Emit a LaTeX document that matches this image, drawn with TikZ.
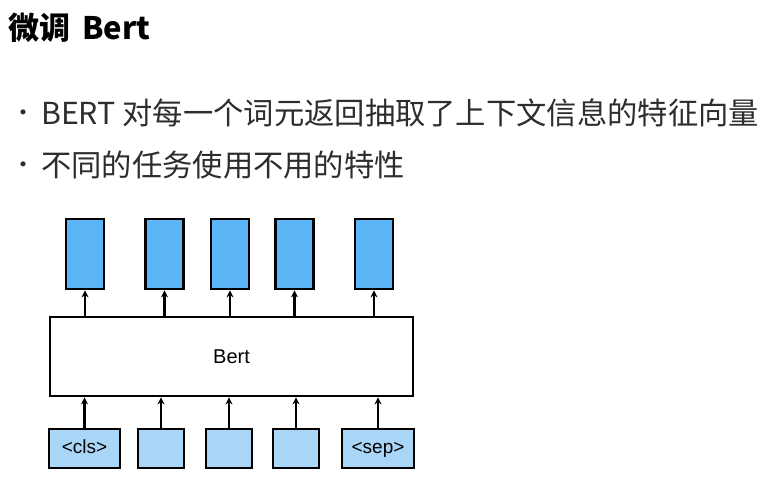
\documentclass[tikz,border=0pt]{standalone}
\usepackage{fontspec}
\setmainfont{Noto Sans CJK SC}
\newfontfamily\arialfont{Liberation Sans}
\usetikzlibrary{positioning, arrows.meta}
\definecolor{topblue}{RGB}{91,181,247}
\definecolor{lowblue}{RGB}{169,213,247}
\definecolor{txtgray}{RGB}{45,45,45}

\begin{document}
\begin{tikzpicture}[x=1pt, y=1pt, >={Stealth[length=7pt, width=7pt]},
         outbox/.style={
         % The shape:
         rectangle, inner sep=0pt,
         % The size:
         minimum width=38pt, minimum height=70pt,
         % The border
         line width=2.8pt, draw=black,
         % The filling
         fill=topblue},
         inbox/.style={rectangle, inner sep=0pt,
         minimum height=39pt, text height=13pt, text depth=4pt,
         line width=2.8pt, draw=black,
         fill=lowblue,
         % Font
         font=\arialfont\fontsize{19}{22}\selectfont},
         bertbox/.style={rectangle, inner sep=0pt,
         minimum width=363pt, minimum height=79pt,
         line width=2.8pt, draw=black, fill=white,
         font=\arialfont\fontsize{20}{24}\selectfont},
         arr/.style={->, line width=2.4pt},
         bullettext/.style={anchor=west, inner sep=0pt, text=txtgray,
         font=\fontsize{30.3}{36}\selectfont},
         bulletdot/.style={inner sep=0pt, text=txtgray,
         font=\fontsize{24}{28}\selectfont}]
   \useasboundingbox (0,0) rectangle (771,477);
   % title and bullets
   \node [anchor=west, inner sep=0pt, font=\fontsize{31}{36}\selectfont\bfseries] (title) at (8,449) {微调\hspace{12pt}Bert};
   \node [bulletdot] (dot1) at (24,361) {•};
   \node [bullettext] (line1) at (41,364) {BERT 对每一个词元返回抽取了上下文信息的特征向量};
   \node [bulletdot] (dot2) at (24,309) {•};
   \node [bullettext] (line2) at (41,312) {不同的任务使用不用的特性};
   % the model
   \node [bertbox] (bert) at (231.5,120.5) {Bert};
   \foreach \i \x in {1/85, 2/164.5, 3/230, 4/294.5, 5/374}{
      \node [outbox] (out\i) at (\x,223) {};
      \draw [arr] (out\i.south |- bert.north) -- (out\i.south);
   };
   \foreach \i \x \w \t in {1/84.5/71/{<cls>}, 2/161/46/{}, 3/229/46/{}, 4/296/46/{}, 5/378/72/{<sep>}}{
      \node [inbox, minimum width=\w pt] (in\i) at (\x,28.5) {\t};
      \draw [arr] (in\i.north) -- (in\i.north |- bert.south);
   };
\end{tikzpicture}
\end{document}
